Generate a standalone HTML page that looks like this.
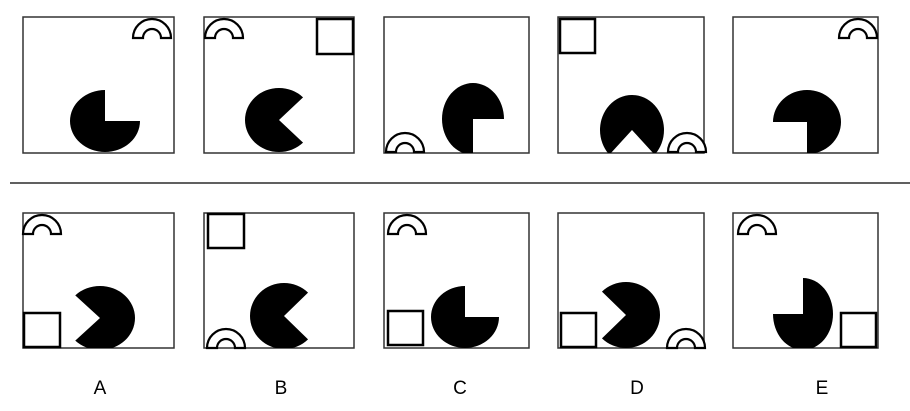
<!DOCTYPE html>
<html><head><meta charset="utf-8"><style>
html,body{margin:0;padding:0;background:#fff;width:910px;height:411px;overflow:hidden}
svg{display:block}
text{font-family:"Liberation Sans",sans-serif;font-size:19px;fill:#000}
</style></head><body>
<svg id="s" width="910" height="411" viewBox="0 0 910 411">
<line x1="10" y1="183" x2="910" y2="183" stroke="#000" stroke-width="1.3"/>
<text x="100" y="394" text-anchor="middle">A</text>
<text x="281" y="394" text-anchor="middle">B</text>
<text x="460" y="394" text-anchor="middle">C</text>
<text x="637" y="394" text-anchor="middle">D</text>
<text x="822" y="394" text-anchor="middle">E</text>
</svg>
<script>
const NS="http://www.w3.org/2000/svg";
const svg=document.getElementById('s');
const panels=[
 {b:[23,17,174,153],n:'sequence-panel-1',pac:[105,121,35,31,-90,0],arch:[152,38],sq:null},
 {b:[204,17,354,153],n:'sequence-panel-2',pac:[279,120,34,32,-45,45],arch:[224,38],sq:[316,18,354,55]},
 {b:[384,17,529,153],n:'sequence-panel-3',pac:[473,119,31,36,0,90],arch:[405,152],sq:null},
 {b:[558,17,704,153],n:'sequence-panel-4',pac:[632,130,32,35,45,135],arch:[687,152],sq:[559,18,596,54]},
 {b:[733,17,878,153],n:'sequence-panel-5',pac:[807,122,34,32,90,180],arch:[858,38],sq:null},
 {b:[23,213,174,348],n:'option-panel-a',pac:[100,318,35,32,135,225],arch:[42,234],sq:[23,312,61,348]},
 {b:[204,213,354,348],n:'option-panel-b',pac:[284,316,34,33,-45,45],arch:[226,348],sq:[207,213,245,249]},
 {b:[384,213,529,348],n:'option-panel-c',pac:[465,317,34,31,-90,0],arch:[407,234],sq:[387,310,424,346]},
 {b:[558,213,704,348],n:'option-panel-d',pac:[626,315,34,33,135,225],arch:[686,348],sq:[560,312,597,348]},
 {b:[733,213,878,348],n:'option-panel-e',pac:[803,314,30,36,180,270],arch:[757,234],sq:[840,312,877,348]}
];
function el(t,a,p){const e=document.createElementNS(NS,t);for(const k in a)e.setAttribute(k,a[k]);(p||svg).appendChild(e);return e;}
panels.forEach((p,i)=>{
 const g=el('g',{});
 
 
 const [x1,y1,x2,y2]=p.b;
 const cp=el('clipPath',{id:'c'+i},g);
 el('rect',{x:x1,y:y1,width:x2-x1,height:y2-y1},cp);
 const r=el('rect',{x:x1,y:y1,width:x2-x1,height:y2-y1,fill:'#fff',stroke:'#333','stroke-width':1.5},g);
 
 
 const [cx,cy,rx,ry,a1,a2]=p.pac;
 const pt=a=>[cx+rx*Math.cos(a*Math.PI/180),cy+ry*Math.sin(a*Math.PI/180)];
 const s=pt(a2),e=pt(a1);
 const pac=el('path',{d:`M${cx},${cy}L${s[0]},${s[1]}A${rx},${ry} 0 1 1 ${e[0]},${e[1]}Z`,fill:'#000','clip-path':`url(#c${i})`},g);
 
 
 const [ax,ay]=p.arch;
 const ar=el('path',{d:`M${ax-19},${ay}A19,19 0 0 1 ${ax+19},${ay}L${ax+9},${ay}A9,9 0 0 0 ${ax-9},${ay}Z`,fill:'#fff',stroke:'#000','stroke-width':2.2},g);
 
 
 if(p.sq){const [sx1,sy1,sx2,sy2]=p.sq;
  const sq=el('rect',{x:sx1+1,y:sy1+1,width:sx2-sx1-2,height:sy2-sy1-2,fill:'#fff',stroke:'#000','stroke-width':2.5},g);
  
  }
});
</script>
</body></html>
